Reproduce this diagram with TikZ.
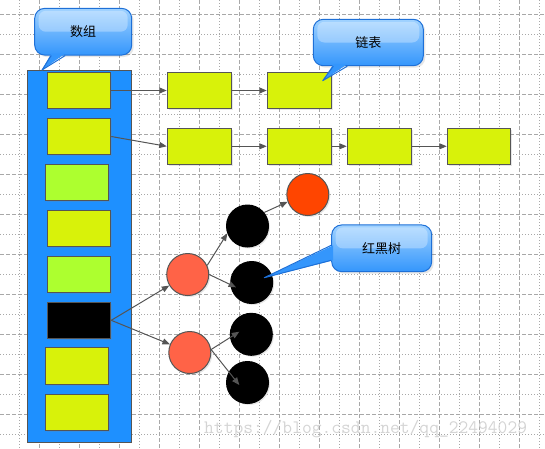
\documentclass[tikz,border=0pt]{standalone}
\usepackage{fontspec}
\newfontfamily\cjk{Noto Sans CJK SC}
\usetikzlibrary{shadows, arrows.meta, calc}

\definecolor{slotyellow}{RGB}{216,242,10}
\definecolor{slotgreen}{RGB}{173,255,47}
\definecolor{arrayblue}{RGB}{30,144,255}
\definecolor{edgegray}{RGB}{85,85,85}
\definecolor{gridgray}{RGB}{168,168,168}
\definecolor{tomatored}{RGB}{255,99,71}
\definecolor{orangered}{RGB}{255,69,0}
\definecolor{notetop}{RGB}{160,210,255}
\definecolor{notebot}{RGB}{52,150,252}
\definecolor{noteedge}{RGB}{30,112,215}

\tikzstyle{majorgrid} = [gridgray, line width=1pt, dash pattern=on 4pt off 2pt]
\tikzstyle{minorgrid} = [gridgray, line width=1pt, dash pattern=on 1pt off 2pt]
\tikzstyle{tablebg} = [rectangle,
  minimum width=104pt, minimum height=372pt,
  draw=edgegray, line width=1pt, fill=arrayblue]
\tikzstyle{bucket} = [rectangle,
  minimum width=63.5pt, minimum height=36.5pt, inner sep=0pt,
  draw=edgegray, line width=1pt, fill=slotyellow,
  drop shadow={shadow xshift=1.5pt, shadow yshift=-1.5pt, opacity=0.2}]
\tikzstyle{entry} = [bucket, minimum width=64.5pt]
\tikzstyle{rednode} = [circle, minimum size=42pt, inner sep=0pt,
  draw=edgegray, line width=1pt, fill=tomatored,
  drop shadow={shadow xshift=1.5pt, shadow yshift=-1.5pt, opacity=0.2}]
\tikzstyle{blacknode} = [rednode, draw=black, fill=black]
\tikzstyle{note} = [rectangle, rounded corners=10pt,
  draw=noteedge, line width=1pt,
  top color=notetop, bottom color=notebot,
  font=\cjk\fontsize{13}{15}\selectfont,
  drop shadow={shadow xshift=2pt, shadow yshift=-2pt, opacity=0.2},
  path picture={\fill[white, opacity=0.3, rounded corners=7pt]
    ([shift={(4pt,-2.5pt)}]path picture bounding box.north west) rectangle
    ([shift={(-4pt,0pt)}]path picture bounding box.east);}]
\tikzstyle{tailfill} = [fill=notebot]
\tikzstyle{tailedge} = [noteedge, line width=1pt, line join=round]
\tikzstyle{arrow} = [edgegray, line width=1pt,
  -{Triangle[length=7.5pt, width=6pt]}]

\begin{document}
\begin{tikzpicture}[x=1pt, y=-1pt]
\useasboundingbox (0,0) rectangle (545,448);

%% ---- GRID ----
\foreach \gx in {19,59,...,539} \draw[minorgrid] (\gx,0) -- (\gx,448);
\foreach \gx in {39,79,...,519} \draw[majorgrid] (\gx,0) -- (\gx,448);
\foreach \gy in {14,54,...,414} \draw[majorgrid] (0,\gy) -- (545,\gy);
\foreach \gy in {34,74,...,434} \draw[minorgrid] (0,\gy) -- (545,\gy);

%% ---- ARRAY ----
\node (table) [tablebg] at (79.5, 256) {};

\node (bkt1) [bucket] at (79, 90.5)  {};
\node (bkt2) [bucket] at (79, 136.5) {};
\node (bkt3) [bucket, fill=slotgreen] at (77, 182.5) {};
\node (bkt4) [bucket] at (79, 228.5) {};
\node (bkt5) [bucket, fill=slotgreen] at (79, 274.5) {};
\node (bkt6) [bucket, fill=black] at (79, 320.3) {};
\node (bkt7) [bucket] at (77, 366.2) {};
\node (bkt8) [bucket] at (77, 412.3) {};

%% ---- LINKED LISTS ----
\node (lst11) [entry] at (199.5, 90.5) {};
\node (lst12) [entry] at (299.5, 90.5) {};

\node (lst21) [entry] at (199.5, 146.3) {};
\node (lst22) [entry] at (299.5, 146.3) {};
\node (lst23) [entry] at (379.5, 146.3) {};
\node (lst24) [bucket] at (479, 146.3) {};

\draw[arrow] (bkt1.east) -- (lst11.west);
\draw[arrow] (lst11) -- (lst12);
\draw[arrow] (bkt2.east) -- (lst21.west);
\draw[arrow] (lst21) -- (lst22);
\draw[arrow] (lst22) -- (lst23);
\draw[arrow] (lst23) -- (lst24);

%% ---- RED-BLACK TREE ----
\node (red1) [rednode] at (187.7, 274.5) {};
\node (red2) [rednode] at (189.8, 352.5) {};
\node (red0) [rednode, fill=orangered] at (307.8, 194.5) {};

\node (blk1) [blacknode] at (247.5, 226)   {};
\node (blk2) [blacknode] at (251.7, 282.5) {};
\node (blk3) [blacknode] at (251.3, 334.3) {};
\node (blk4) [blacknode] at (247.5, 382.5) {};

\draw[arrow] (bkt6.east) -- (red1);
\draw[arrow] (bkt6.east) -- (red2);
\draw[arrow] (red1.25)   -- (blk1.200);
\draw[arrow] (red1.east) -- ($(blk2)+(-15.7,4.8)$);
\draw[arrow] (red2.8)    -- ($(blk3)+(-12,-2.6)$);
\draw[arrow] (red2.8)    -- ($(blk4)+(-8.2,2.5)$);
\draw[arrow] (blk1.39)   -- (red0.200);

%% ---- CALLOUTS ----
\node (arr_note)  [note, minimum width=97pt,  minimum height=46.7pt] at (83.2, 31.7)  {数组};
\node (list_note) [note, minimum width=110pt, minimum height=46.4pt] at (368.3, 42.5) {链表};
\node (tree_note) [note, minimum width=100pt, minimum height=46.7pt] at (381.7, 248.3) {红黑树};

\coordinate (arr_tip)  at (42, 70);
\coordinate (list_tip) at (322.7, 80.7);
\coordinate (tree_tip) at ($(blk2)+(12.6,-4.8)$);

\fill[tailfill] ($(arr_note.south)+(-32,-2)$) -- (arr_tip) -- ($(arr_note.south)+(-18,-2)$) -- cycle;
\draw[tailedge] ($(arr_note.south)+(-32,0)$) -- (arr_tip) -- ($(arr_note.south)+(-18,0)$);

\fill[tailfill] ($(list_note.south)+(-35,-2)$) -- (list_tip) -- ($(list_note.south)+(-21,-2)$) -- cycle;
\draw[tailedge] ($(list_note.south)+(-35,0)$) -- (list_tip) -- ($(list_note.south)+(-21,0)$);

\fill[tailfill] ($(tree_note.west)+(2,-3)$) -- (tree_tip) -- ($(tree_note.west)+(2,12)$) -- cycle;
\draw[tailedge] ($(tree_note.west)+(0,-3)$) -- (tree_tip) -- ($(tree_note.west)+(0,12)$);

%% ---- WATERMARK ----
\node (mark) [anchor=base west, inner sep=0pt, text=black!17,
  font=\ttfamily\fontsize{19}{19}\selectfont] at (204, 433)
  {https://blog.csdn.net/qq\_22494029};

\end{tikzpicture}
\end{document}
